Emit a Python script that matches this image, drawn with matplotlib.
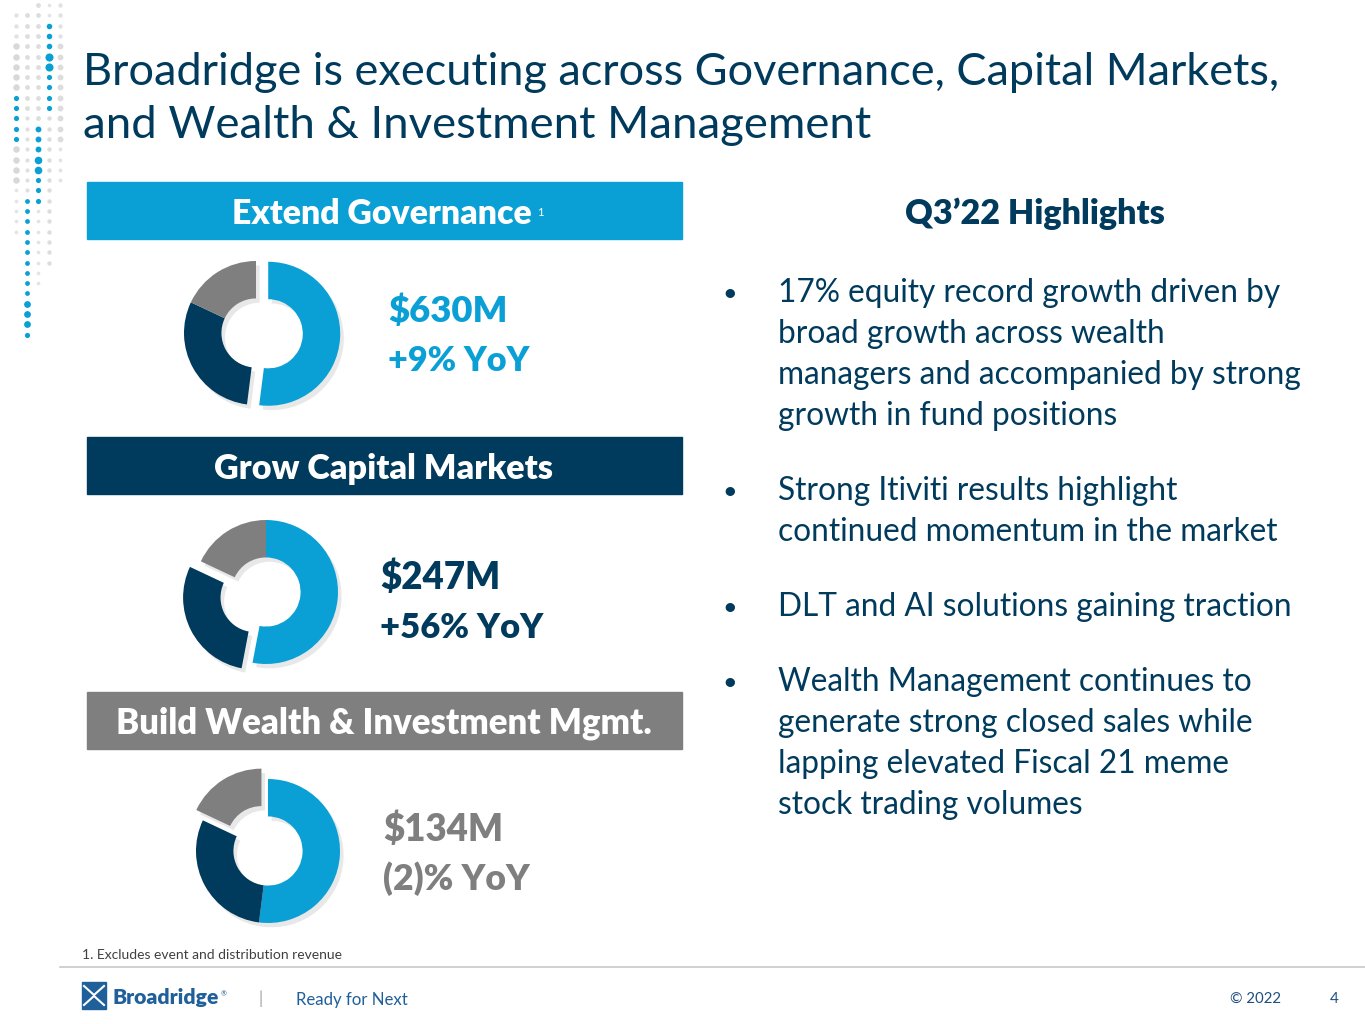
import matplotlib
matplotlib.use('Agg')
import matplotlib.pyplot as plt
from matplotlib.patches import Rectangle

# ---------------- data ----------------
segment_titles = ["Extend Governance", "Grow Capital Markets", "Build Wealth & Investment Mgmt."]
revenue_labels = ["$630M", "$247M", "$134M"]
growth_labels = ["+9% YoY", "+56% YoY", "(2)% YoY"]
# revenue mix shares shown in each donut (light blue, navy, gray)
mix_governance = [52, 30, 18]
mix_capital = [53, 29, 18]
mix_wealth = [52, 30, 18]
exploded_slice = [0, 1, 2]
highlights_title = "Q3\u201922 Highlights"
bullets = [
    ["17% equity record growth driven by", "broad growth across wealth",
     "managers and accompanied by strong", "growth in fund positions"],
    ["Strong Itiviti results highlight", "continued momentum in the market"],
    ["DLT and AI solutions gaining traction"],
    ["Wealth Management continues to", "generate strong closed sales while",
     "lapping elevated Fiscal 21 meme", "stock trading volumes"],
]
title_lines = ["Broadridge is executing across Governance, Capital Markets,",
               "and Wealth & Investment Management"]
footnote = "1. Excludes event and distribution revenue"

# ---------------- style ----------------
LB = '#0AA0D6'
NAVY = '#003A5C'
GRAY = '#7F7F7F'
FONT = 'Lato'
W, H = 1365, 1024

fig = plt.figure(figsize=(13.65, 10.24), dpi=100)
ax = fig.add_axes([0, 0, 1, 1])
ax.set_xlim(0, W)
ax.set_ylim(H, 0)
ax.axis('off')
renderer = fig.canvas.get_renderer()


def fit(t, target_w):
    """scale fontsize of text t so its width matches target_w pixels"""
    bb = t.get_window_extent(renderer=renderer)
    t.set_fontsize(t.get_fontsize() * target_w / bb.width)
    return t


def txt(x, y, s, size, color, weight='normal', ha='left', target=None, **kw):
    t = ax.text(x, y, s, fontsize=size, color=color, fontweight=weight,
                ha=ha, va='baseline', family=FONT, **kw)
    if target is not None:
        fit(t, target)
    return t


# ---------------- decorative dots ----------------
dot_cols_x = [16, 27, 38, 49, 60]
row_y0, row_dy, n_rows = 5, 10.3, 33
# per column: list of (start_row, end_row, color, size)
dot_cols = [
    [(1, 3, '#E2E2E2', 10), (4, 8, '#D8D8D8', 22), (9, 13, LB, 14), (14, 17, '#D8D8D8', 22), (18, 22, '#E4E4E4', 7)],
    [(1, 10, '#DDDDDD', 12), (11, 18, '#E0E0E0', 9), (19, 28, LB, 12), (29, 31, LB, 24), (32, 32, LB, 14)],
    [(0, 11, '#DDDDDD', 12), (12, 14, LB, 18), (15, 16, LB, 30), (17, 19, LB, 14), (20, 27, '#E4E4E4', 7)],
    [(0, 1, '#E4E4E4', 7), (2, 4, LB, 16), (5, 6, LB, 34), (7, 10, LB, 14), (11, 25, '#DDDDDD', 10)],
    [(0, 3, '#E2E2E2', 10), (4, 13, '#DDDDDD', 18), (14, 17, '#E4E4E4', 8)],
]
for cx, segs in zip(dot_cols_x, dot_cols):
    for r0, r1, c, s in segs:
        ys = [row_y0 + row_dy * r for r in range(r0, r1 + 1)]
        ax.scatter([cx] * len(ys), ys, s=s, color=c, linewidths=0, zorder=1)

# ---------------- title ----------------
txt(83, 85, title_lines[0], 33, NAVY, target=1200)
txt(83, 138, title_lines[1], 33, NAVY, target=788)

# ---------------- header bars ----------------
bar_y = [182, 437, 692]
bar_colors = [LB, NAVY, GRAY]
bar_text_w = [300, 339, 534]
bar_text_x = [382, 384, 384]
for i, (y, c) in enumerate(zip(bar_y, bar_colors)):
    ax.add_patch(Rectangle((87, y), 595, 57, color=c, zorder=2))
    txt(bar_text_x[i], y + 42, segment_titles[i], 24, 'white', weight='heavy',
        ha='center', target=bar_text_w[i], zorder=3)
txt(537, 216, "1", 8, 'white', zorder=3)

# ---------------- donuts ----------------
mixes = [mix_governance, mix_capital, mix_wealth]
centers = [(256, 333), (266, 592), (268, 851)]
radius_px = 72
pie_colors = [LB, NAVY, GRAY]
for mix, (cx, cy), ex in zip(mixes, centers, exploded_slice):
    size = radius_px * 2.5
    pax = fig.add_axes([(cx - size / 2) / W, 1 - (cy + size / 2) / H, size / W, size / H])
    explode = [0.17 if k == ex else 0 for k in range(3)]
    # soft shadow
    pax.pie(mix, explode=explode, colors=['#000000'] * 3, startangle=90, counterclock=False,
            center=(0.05, -0.06), wedgeprops=dict(width=0.52, alpha=0.09, linewidth=0))
    pax.pie(mix, explode=explode, colors=pie_colors, startangle=90, counterclock=False,
            wedgeprops=dict(width=0.52, linewidth=0))
    pax.set_xlim(-1.25, 1.25)
    pax.set_ylim(-1.25, 1.25)
    pax.set_aspect('equal')
    pax.axis('off')

# ---------------- value labels ----------------
val_x = [388, 380, 383]
val_base = [322, 589, 841]
val_colors = [LB, NAVY, GRAY]
val_w = [119, 120, 120]
grow_w = [142, 163, 147]
for i in range(3):
    txt(val_x[i], val_base[i], revenue_labels[i], 28, val_colors[i], weight='heavy', target=val_w[i])
    txt(val_x[i], val_base[i] + 49, growth_labels[i], 28, val_colors[i], weight='heavy', target=grow_w[i])

# ---------------- highlights ----------------
txt(1035, 224, highlights_title, 22, NAVY, weight='heavy', ha='center', target=260)
ref = txt(-2000, 0, "managers and accompanied by strong", 20, NAVY, target=524)
bsize = ref.get_fontsize()
ref.remove()
y = 302
for group in bullets:
    txt(730, y - 1, "\u2022", bsize * 0.8, NAVY, ha='center')
    for line in group:
        txt(778, y, line, bsize, NAVY)
        y += 41
    y += 34

# ---------------- footer ----------------
txt(82, 959, footnote, 9.5, '#404040', target=262)
ax.plot([60, W], [967, 967], color='#C8C8C8', lw=1.2)
# logo mark
ax.add_patch(Rectangle((82, 982), 24, 27, color='#1F5F9A', zorder=2))
ax.plot([84, 94, 104], [986, 995, 986], color='white', lw=1.5, zorder=3)
ax.plot([84, 94, 104], [1005, 996, 1005], color='white', lw=1.5, zorder=3)
txt(113, 1004, "Broadridge", 15, '#1F5F9A', weight='heavy', target=107)
txt(221, 996, "\u00ae", 5, '#1F5F9A')
txt(258, 1004, "|", 12, '#A0A0A0')
txt(296, 1005, "Ready for Next", 14, '#1F5F9A', target=112)
txt(1230, 1003, "\u00a9 2022", 11, '#1F4F7F', target=51)
txt(1330, 1003, "4", 11, '#1F4F7F')

fig.savefig('out.png', dpi=100)
